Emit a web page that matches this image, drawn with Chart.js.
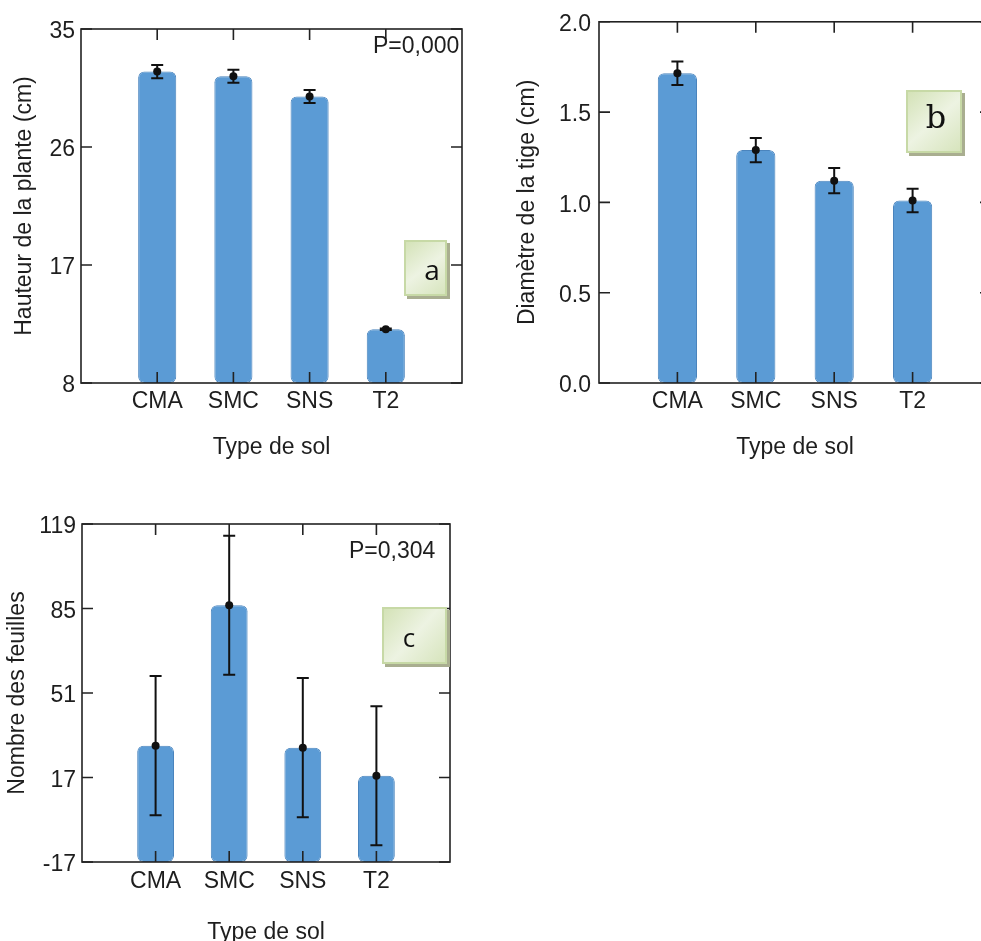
<!DOCTYPE html>
<html>
<head>
<meta charset="utf-8">
<script src="https://cdn.jsdelivr.net/npm/chart.js@4.4.1/dist/chart.umd.min.js"></script>
<style>
  html, body { margin: 0; padding: 0; background: #fff; overflow: hidden; width: 981px; height: 941px; }
  .panneau { position: absolute; }
</style>
</head>
<body>
<div class="panneau" style="left:0;top:0"><canvas id="chartA" width="480" height="470"></canvas></div>
<div class="panneau" style="left:500px;top:0"><canvas id="chartB" width="500" height="470"></canvas></div>
<div class="panneau" style="left:0;top:480px"><canvas id="chartC" width="480" height="470"></canvas></div>
<script>
// données
const categories = ['CMA', 'SMC', 'SNS', 'T2'];

const hauteurMoy = [31.75, 31.4, 29.85, 12.1];
const hauteurErr = [0.5, 0.5, 0.5, 0.05];
const hauteurTicks = [8, 17, 26, 35];

const diametreMoy = [1.715, 1.29, 1.12, 1.01];
const diametreErr = [0.065, 0.067, 0.07, 0.065];
const diametreTicks = [0.0, 0.5, 1.0, 1.5, 2.0];

const feuillesMoy = [29.8, 86.3, 29, 17.7];
const feuillesErr = [28, 28, 28, 28];
const feuillesTicks = [-17, 17, 51, 85, 119];

const police = 'Liberation Sans, Arial, sans-serif';
const texte = '#1e1e1e';
const taille = 23;

// cadre, graduations internes, barres d'erreur et annotations
function cadrePlugin(cfg) {
    return {
        id: 'cadre',
        afterDatasetsDraw(chart) {
            const { ctx, chartArea: { left, right, top, bottom }, scales: { x, y } } = chart;
            ctx.save();
            ctx.strokeStyle = '#111';
            ctx.lineWidth = 2;
            cfg.moy.forEach((m, i) => {
                const px = x.getPixelForValue(i + 1);
                const y1 = y.getPixelForValue(m + cfg.err[i]);
                const y2 = y.getPixelForValue(m - cfg.err[i]);
                ctx.beginPath();
                ctx.moveTo(px, y1); ctx.lineTo(px, y2);
                ctx.moveTo(px - 6, y1); ctx.lineTo(px + 6, y1);
                ctx.moveTo(px - 6, y2); ctx.lineTo(px + 6, y2);
                ctx.stroke();
            });
            ctx.strokeStyle = '#222';
            ctx.lineWidth = 1.6;
            ctx.strokeRect(left, top, right - left, bottom - top);
            ctx.beginPath();
            y.ticks.forEach((t, i) => {
                const py = y.getPixelForTick(i);
                ctx.moveTo(left, py); ctx.lineTo(left + 11, py);
                ctx.moveTo(right, py); ctx.lineTo(right - 11, py);
            });
            categories.forEach((c, i) => {
                const px = x.getPixelForValue(i + 1);
                ctx.moveTo(px, bottom); ctx.lineTo(px, bottom - 11);
                ctx.moveTo(px, top); ctx.lineTo(px, top + 11);
            });
            ctx.stroke();
            ctx.restore();
        },
        afterDraw(chart) {
            const ctx = chart.ctx;
            ctx.save();
            // valeur P
            ctx.fillStyle = texte;
            ctx.font = taille + 'px ' + police;
            ctx.textAlign = 'left';
            ctx.textBaseline = 'middle';
            ctx.fillText(cfg.pTexte, cfg.pX, cfg.pY);
            // étiquette du panneau
            const b = cfg.boite;
            ctx.fillStyle = '#a9ae90';
            ctx.fillRect(b.x + 3, b.y + 3, b.w, b.h);
            const g = ctx.createLinearGradient(b.x, b.y, b.x + b.w, b.y + b.h);
            g.addColorStop(0, '#d2e1b4');
            g.addColorStop(0.5, '#edf3e2');
            g.addColorStop(1, '#d5e3ba');
            ctx.fillStyle = g;
            ctx.fillRect(b.x, b.y, b.w, b.h);
            ctx.strokeStyle = '#c7d9a6';
            ctx.lineWidth = 2;
            ctx.strokeRect(b.x + 1, b.y + 1, b.w - 2, b.h - 2);
            ctx.fillStyle = '#111';
            ctx.font = b.font;
            ctx.textAlign = 'center';
            ctx.fillText(b.lettre, b.lx, b.ly);
            ctx.restore();
        }
    };
}

function creerGraphique(id, moy, err, ticks, base, titreY, format, dims, annot) {
    const ctx = document.getElementById(id).getContext('2d');
    return new Chart(ctx, {
        type: 'bar',
        data: {
            labels: ['', ...categories, ''],
            datasets: [{
                type: 'line',
                data: [null, ...moy, null],
                showLine: false,
                pointRadius: 4,
                pointBackgroundColor: '#111',
                pointBorderWidth: 0,
                order: 0
            }, {
                data: [null, ...moy, null],
                base: base,
                backgroundColor: '#5b9bd5',
                borderColor: '#4a84bd',
                borderWidth: 1,
                borderRadius: 6,
                borderSkipped: false,
                categoryPercentage: 1,
                barPercentage: 0.5,
                order: 1
            }]
        },
        options: {
            responsive: false,
            devicePixelRatio: 1,
            animation: false,
            layout: { padding: { left: 0, right: dims.droite, top: dims.haut, bottom: 0 } },
            plugins: { legend: { display: false }, tooltip: { enabled: false } },
            scales: {
                x: {
                    offset: false,
                    grid: { display: false, drawTicks: false },
                    border: { display: false },
                    ticks: { color: texte, font: { family: police, size: taille }, padding: dims.padX, autoSkip: false, maxRotation: 0 },
                    title: { display: true, text: 'Type de sol', color: texte, font: { family: police, size: taille }, padding: dims.titreX },
                    afterFit: s => { s.height = dims.hX; }
                },
                y: {
                    min: ticks[0],
                    max: ticks[ticks.length - 1],
                    afterBuildTicks: s => { s.ticks = ticks.map(v => ({ value: v })); },
                    grid: { display: false, drawTicks: false },
                    border: { display: false },
                    ticks: { color: texte, font: { family: police, size: taille }, padding: dims.padY, labelOffset: 3, callback: format },
                    title: { display: true, text: titreY, color: texte, font: { family: police, size: taille }, padding: dims.titreY },
                    afterFit: s => { s.width = dims.lY; }
                }
            }
        },
        plugins: [cadrePlugin({ moy, err, ...annot })]
    });
}

creerGraphique('chartA', hauteurMoy, hauteurErr, hauteurTicks, 8, 'Hauteur de la plante (cm)', v => v,
    { droite: 18, haut: 29, hX: 87, lY: 81, padX: 5, titreX: 9, padY: 6, titreY: 11 },
    { pTexte: 'P=0,000', pX: 373, pY: 47,
      boite: { x: 404, y: 240, w: 43, h: 56, lettre: 'a', lx: 432, ly: 272, font: '28px "Open Sans", sans-serif' } });

creerGraphique('chartB', diametreMoy, diametreErr, diametreTicks, 0, 'Diamètre de la tige (cm)', v => v.toFixed(1),
    { droite: 9, haut: 21, hX: 87, lY: 99, padX: 5, titreX: 9, padY: 8, titreY: 14 },
    { pTexte: 'P=0,000', pX: 892, pY: 48,
      boite: { x: 406, y: 90, w: 56, h: 63, lettre: 'b', lx: 436, ly: 120, font: '32px "DejaVu Serif", serif' } });

creerGraphique('chartC', feuillesMoy, feuillesErr, feuillesTicks, -17, 'Nombre des feuilles', v => v,
    { droite: 30, haut: 44, hX: 88, lY: 82, padX: 6, titreX: 4, padY: 6, titreY: 4 },
    { pTexte: 'P=0,304', pX: 349, pY: 72,
      boite: { x: 382, y: 127, w: 65, h: 57, lettre: 'c', lx: 409, ly: 160, font: '26px "Open Sans", sans-serif' } });
</script>
</body>
</html>
